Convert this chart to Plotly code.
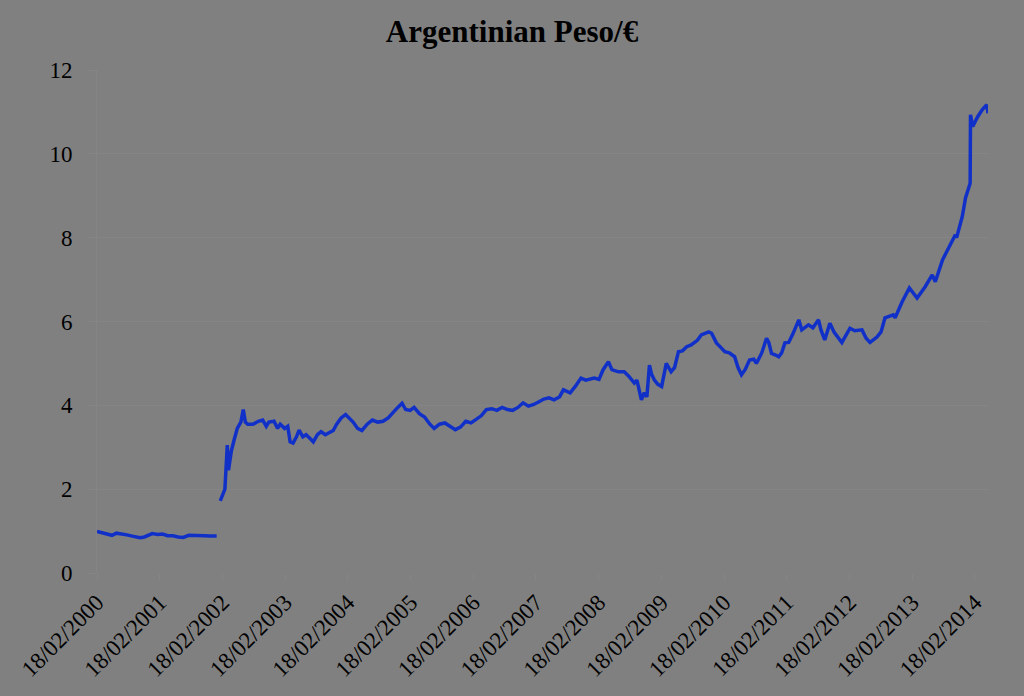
import plotly.graph_objects as go

# Segment 1: pegged period (2000 - Jan 2002)
dates_peg = ["2000-02-18", "2000-03-20", "2000-04-20", "2000-05-15", "2000-06-10", "2000-07-10",
             "2000-08-10", "2000-09-10", "2000-10-26", "2000-11-20", "2000-12-15", "2001-01-05",
             "2001-02-05", "2001-03-05", "2001-04-05", "2001-05-05", "2001-06-05", "2001-07-05",
             "2001-08-05", "2001-09-05", "2001-10-05", "2001-11-05", "2001-12-05", "2002-01-15"]
values_peg = [0.99, 0.96, 0.93, 0.90, 0.95, 0.94, 0.91, 0.88, 0.84, 0.86, 0.90, 0.94,
              0.92, 0.93, 0.89, 0.89, 0.86, 0.85, 0.90, 0.90, 0.91, 0.89, 0.88, 0.88]

# Segment 2: floating period (Feb 2002 - 2014)
dates_float = [
    "2002-02-05", "2002-02-18", "2002-03-04", "2002-03-12", "2002-03-18", "2002-03-25",
    "2002-04-10", "2002-04-25", "2002-05-15", "2002-06-05", "2002-06-19", "2002-07-01",
    "2002-07-15", "2002-08-15", "2002-09-15", "2002-10-10", "2002-10-31", "2002-11-15",
    "2002-12-15", "2003-01-05", "2003-01-20", "2003-02-15", "2003-03-05", "2003-03-19",
    "2003-04-05", "2003-04-25", "2003-05-10", "2003-06-01", "2003-06-20", "2003-07-10",
    "2003-08-01", "2003-08-25", "2003-09-15", "2003-10-10", "2003-11-05", "2003-11-25",
    "2003-12-15", "2004-01-10", "2004-02-05", "2004-02-25", "2004-03-20", "2004-04-15",
    "2004-05-10", "2004-06-10", "2004-07-10", "2004-08-10", "2004-09-10", "2004-10-10",
    "2004-11-10", "2004-12-05", "2004-12-30", "2005-01-20", "2005-02-15", "2005-03-10",
    "2005-04-10", "2005-05-10", "2005-06-10", "2005-07-05", "2005-08-05", "2005-09-05",
    "2005-10-05", "2005-11-05", "2005-12-05", "2006-01-05", "2006-02-05", "2006-03-05",
    "2006-04-05", "2006-05-05", "2006-06-05", "2006-07-05", "2006-08-05", "2006-09-05",
    "2006-10-05", "2006-11-05", "2006-12-05", "2007-01-05", "2007-02-05", "2007-03-05",
    "2007-04-05", "2007-05-05", "2007-06-03", "2007-07-05", "2007-07-28", "2007-09-05",
    "2007-10-05", "2007-11-07", "2007-12-05", "2008-01-23", "2008-02-20", "2008-03-15",
    "2008-04-15", "2008-05-05", "2008-06-12", "2008-07-16", "2008-08-10", "2008-09-13",
    "2008-09-28", "2008-10-24", "2008-11-10", "2008-11-25", "2008-12-10", "2008-12-22",
    "2009-01-08", "2009-01-28", "2009-02-19", "2009-03-18", "2009-04-15", "2009-05-05",
    "2009-05-28", "2009-06-20", "2009-07-15", "2009-08-10", "2009-09-15", "2009-10-08",
    "2009-11-20", "2009-12-07", "2010-01-04", "2010-01-25", "2010-02-22", "2010-03-20",
    "2010-04-20", "2010-05-10", "2010-05-30", "2010-06-20", "2010-07-16", "2010-08-10",
    "2010-08-25", "2010-09-25", "2010-10-23", "2010-11-05", "2010-11-21", "2010-12-15",
    "2011-01-02", "2011-01-19", "2011-02-07", "2011-03-01", "2011-03-25", "2011-04-29",
    "2011-05-16", "2011-06-24", "2011-07-20", "2011-08-22", "2011-09-05", "2011-09-27",
    "2011-10-27", "2011-11-20", "2011-12-15", "2012-01-05", "2012-02-21", "2012-03-20",
    "2012-05-01", "2012-05-25", "2012-06-17", "2012-07-27", "2012-08-20", "2012-09-12",
    "2012-10-30", "2012-11-10", "2012-12-21", "2013-01-15", "2013-02-01", "2013-03-18",
    "2013-05-04", "2013-06-14", "2013-07-02", "2013-08-13", "2013-09-23", "2013-10-27",
    "2013-11-03", "2013-12-06", "2013-12-25", "2014-01-21", "2014-01-23", "2014-02-05",
    "2014-03-05", "2014-04-01", "2014-04-28", "2014-05-05"]
values_float = [
    1.72, 1.85, 2.00, 2.60, 3.05, 2.45,
    2.90, 3.15, 3.45, 3.60, 3.90, 3.60,
    3.55, 3.55, 3.62, 3.65, 3.50, 3.60,
    3.62, 3.45, 3.55, 3.45, 3.50, 3.13,
    3.10, 3.25, 3.41, 3.25, 3.30, 3.22,
    3.13, 3.30, 3.37, 3.30, 3.35, 3.40,
    3.55, 3.70, 3.78, 3.70, 3.60, 3.45,
    3.40, 3.55, 3.65, 3.60, 3.62, 3.70,
    3.85, 3.95, 4.05, 3.90, 3.88, 3.95,
    3.80, 3.72, 3.55, 3.45, 3.55, 3.58,
    3.50, 3.42, 3.48, 3.62, 3.58, 3.65,
    3.75, 3.90, 3.92, 3.88, 3.95, 3.90,
    3.88, 3.95, 4.06, 3.98, 4.02, 4.08,
    4.15, 4.18, 4.13, 4.20, 4.37, 4.30,
    4.45, 4.65, 4.60, 4.65, 4.62, 4.85,
    5.04, 4.85, 4.80, 4.80, 4.70, 4.53,
    4.60, 4.13, 4.30, 4.20, 4.96, 4.75,
    4.60, 4.50, 4.45, 5.00, 4.80, 4.90,
    5.28, 5.30, 5.40, 5.44, 5.55, 5.68,
    5.75, 5.72, 5.49, 5.40, 5.28, 5.25,
    5.16, 4.90, 4.73, 4.85, 5.08, 5.10,
    5.00, 5.25, 5.60, 5.50, 5.24, 5.20,
    5.16, 5.25, 5.49, 5.50, 5.70, 6.04,
    5.80, 5.92, 5.85, 6.04, 5.80, 5.56,
    5.96, 5.75, 5.60, 5.50, 5.84, 5.78,
    5.80, 5.60, 5.50, 5.63, 5.75, 6.09,
    6.16, 6.09, 6.47, 6.65, 6.80, 6.56,
    6.83, 7.11, 6.95, 7.47, 7.78, 8.07,
    8.00, 8.50, 8.95, 9.30, 10.93, 10.65,
    10.88, 11.05, 11.17, 10.97]

tick_years = list(range(2000, 2015))
tick_dates = [f"{y}-02-18" for y in tick_years]
tick_labels = [f"18/02/{y}" for y in tick_years]
y_ticks = [0, 2, 4, 6, 8, 10, 12]

x_all = dates_peg + [None] + dates_float
y_all = values_peg + [None] + values_float

BG = "#808080"
GRID = "#858585"
FONT = "Liberation Serif, Times New Roman, serif"

fig = go.Figure()
fig.add_trace(go.Scatter(
    x=x_all, y=y_all, mode="lines", connectgaps=False,
    line=dict(color="#1030C8", width=3.5), showlegend=False, hoverinfo="skip"))

fig.update_layout(
    width=1024, height=696,
    paper_bgcolor=BG, plot_bgcolor=BG,
    margin=dict(l=97, r=36, t=70, b=123),
    font=dict(family=FONT, size=23, color="black"),
    title=dict(text="<b>Argentinian Peso/€</b>", x=0.5, xanchor="center",
               y=1 - 31 / 696, yanchor="middle",
               font=dict(family=FONT, size=31, color="black")),
    xaxis=dict(type="date", range=["2000-02-18", "2014-05-05"],
               tickvals=tick_dates, ticktext=tick_labels, tickangle=-45,
               showgrid=False, zeroline=False, showline=False,
               ticks="outside", ticklen=6, tickcolor=GRID,
               tickfont=dict(family=FONT, size=23, color="black")),
    yaxis=dict(range=[0, 12], tickvals=y_ticks,
               showgrid=True, gridcolor=GRID, gridwidth=1, zeroline=False,
               showline=True, linecolor=GRID, linewidth=1,
               ticks="outside", ticklen=9, tickcolor=GRID,
               ticklabelstandoff=10,
               tickfont=dict(family=FONT, size=23, color="black")),
)

fig.write_html("out.html")
